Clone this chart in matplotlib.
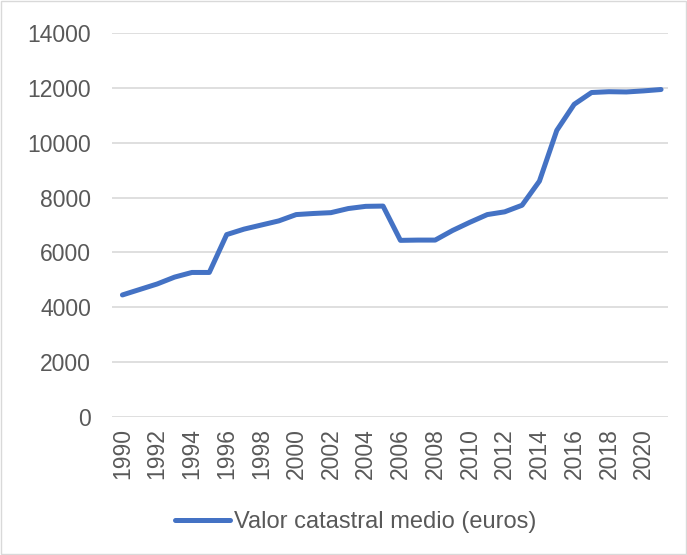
import matplotlib
matplotlib.use("Agg")
import matplotlib.pyplot as plt

# serie anual del valor catastral medio
years = list(range(1990, 2022))
valor = [4450, 4650, 4850, 5100, 5270, 5270, 6650, 6850, 7000, 7150,
         7380, 7420, 7450, 7600, 7680, 7690, 6440, 6450, 6450, 6800,
         7100, 7380, 7480, 7720, 8600, 10450, 11400, 11830, 11860, 11850,
         11890, 11940]
tick_years = list(range(1990, 2021, 2))
y_ticks = list(range(0, 14001, 2000))

plt.rcParams['font.family'] = ['Liberation Sans', 'DejaVu Sans']
gris = '#595959'
fs = 16.5

fig = plt.figure(figsize=(6.87, 5.55), dpi=100)
ax = fig.add_axes([112 / 687, 1 - 417 / 555, 556 / 687, 384 / 555])

ax.plot(years, valor, color='#4472c4', lw=3.6, solid_capstyle='round',
        solid_joinstyle='round', label='Valor catastral medio (euros)')

ax.set_ylim(0, 14000)
ax.set_xlim(1989.4, 2021.4)
ax.set_yticks(y_ticks)
ax.set_xticks(tick_years)
ax.set_xticklabels([str(y) for y in tick_years], rotation=90)
ax.tick_params(axis='both', length=0, labelsize=fs, colors=gris)
ax.tick_params(axis='y', pad=15)
ax.tick_params(axis='x', pad=8)
ax.grid(axis='y', color='#d9d9d9', lw=1.2)
ax.set_axisbelow(True)
for s in ax.spines.values():
    s.set_visible(False)

leg = fig.legend(loc='center', bbox_to_anchor=(356 / 687, 1 - 522 / 555),
                 frameon=False, fontsize=17, handlelength=2.3,
                 handletextpad=0.2)
for t in leg.get_texts():
    t.set_color(gris)

# marco exterior
fig.patches.append(plt.Rectangle((0.001, 0.001), 0.997, 0.997,
                                 transform=fig.transFigure, fill=False,
                                 edgecolor='#d9d9d9', lw=1))

fig.savefig('out.png', dpi=100)
